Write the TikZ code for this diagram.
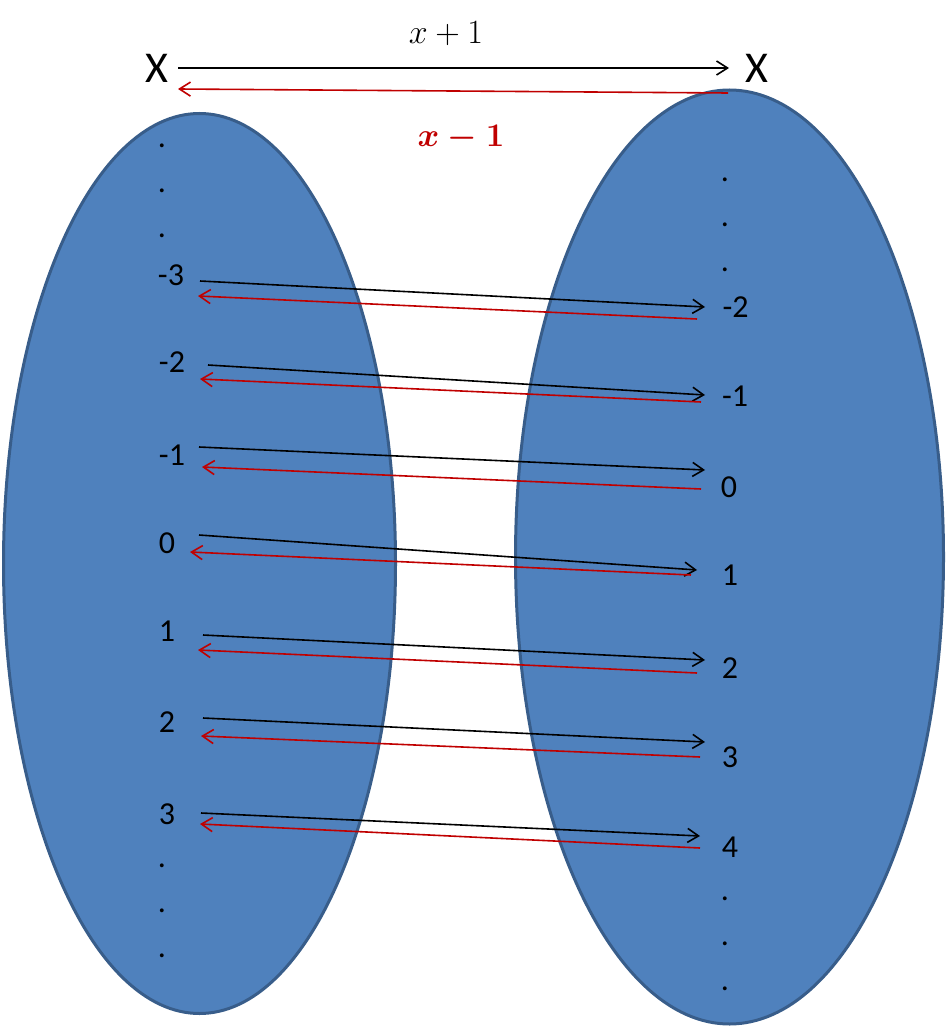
\RequirePackage{fix-cm}
\documentclass[tikz,border=0pt]{standalone}
\usepackage{amsmath}
\usepackage{fontspec}
\setmainfont{Carlito}
\usetikzlibrary{arrows.meta}
\definecolor{setblue}{HTML}{4F81BD}
\definecolor{setedge}{HTML}{385D8A}
\definecolor{invred}{HTML}{C00000}
\begin{document}
\begin{tikzpicture}[x=1pt,y=-1pt,
  setshape/.style={fill=setblue,draw=setedge,line width=3pt},
  num/.style={font=\fontsize{32}{36}\selectfont,inner sep=0pt,text=black},
  bigx/.style={font=\fontsize{44}{50}\selectfont,inner sep=0pt},
  fwd/.style={draw=black,line width=1.6pt,-{Straight Barb[length=11pt,width=14pt]}},
  bwd/.style={draw=invred,line width=1.6pt,-{Straight Barb[length=11pt,width=14pt]}}]
\useasboundingbox (0,0) rectangle (946,1027);
% sets
\path[setshape] (199.5,563.5) ellipse [x radius=196pt, y radius=450pt];
\path[setshape] (729.5,557) ellipse [x radius=214pt, y radius=467pt];
% headings
\node[bigx] (XL) at (157,68) {X};
\node[bigx] (XR) at (756.5,68) {X};
\node[inner sep=0pt,font=\fontsize{34}{40}\selectfont] (fplus) at (446,34) {$x+1$};
\node[inner sep=0pt,text=invred,font=\fontsize{33}{38}\selectfont] (fminus) at (461,138) {$\boldsymbol{x-1}$};
% left labels
\node[num] (Ld1) at (162,146) {.};
\node[num] (Ld2) at (162,191) {.};
\node[num] (Ld3) at (162,236) {.};
\node[num] (Lm3) at (171,275) {-3};
\node[num] (Lm2) at (172,362) {-2};
\node[num] (Lm1) at (172,455) {-1};
\node[num] (L0) at (167,543) {0};
\node[num] (L1) at (167,631) {1};
\node[num] (L2) at (167,722) {2};
\node[num] (L3) at (167,814) {3};
\node[num] (Ld4) at (162,866) {.};
\node[num] (Ld5) at (162,911) {.};
\node[num] (Ld6) at (162,956) {.};
% right labels
\node[num] (Rd1) at (725,180) {.};
\node[num] (Rd2) at (725,225) {.};
\node[num] (Rd3) at (725,270) {.};
\node[num] (Rm2) at (735.5,307) {-2};
\node[num] (Rm1) at (735,396) {-1};
\node[num] (R0) at (729,487) {0};
\node[num] (R1) at (730,575) {1};
\node[num] (R2) at (730,668) {2};
\node[num] (R3) at (730,757) {3};
\node[num] (R4) at (730,847) {4};
\node[num] (Rd4) at (725,899) {.};
\node[num] (Rd5) at (725,944) {.};
\node[num] (Rd6) at (725,989) {.};
% arrow end points
\coordinate (tfa) at (178,68);  \coordinate (tfb) at (729,68);
\coordinate (tba) at (728,93);  \coordinate (tbb) at (178,89);
\coordinate (fa1) at (200,281); \coordinate (fb1) at (705,307);
\coordinate (ba1) at (697,319); \coordinate (bb1) at (198,296);
\coordinate (fa2) at (208,365); \coordinate (fb2) at (705,395);
\coordinate (ba2) at (701,402); \coordinate (bb2) at (200,379);
\coordinate (fa3) at (199,447); \coordinate (fb3) at (705,470);
\coordinate (ba3) at (701,489); \coordinate (bb3) at (202,467);
\coordinate (fa4) at (199,535); \coordinate (fb4) at (697,570);
\coordinate (ba4) at (691,575); \coordinate (bb4) at (190,552);
\coordinate (fa5) at (203,635); \coordinate (fb5) at (705,660);
\coordinate (ba5) at (697,673); \coordinate (bb5) at (198,650);
\coordinate (fa6) at (203,718); \coordinate (fb6) at (705,742);
\coordinate (ba6) at (700,757); \coordinate (bb6) at (201,736);
\coordinate (fa7) at (201,813); \coordinate (fb7) at (700,836);
\coordinate (ba7) at (700,848); \coordinate (bb7) at (200,824);
% arrows
\draw[fwd] (tfa) -- (tfb);
\draw[bwd] (tba) -- (tbb);
\foreach \i in {1,...,7}{
  \draw[fwd] (fa\i) -- (fb\i);
  \draw[bwd] (ba\i) -- (bb\i);
}
\end{tikzpicture}
\end{document}
